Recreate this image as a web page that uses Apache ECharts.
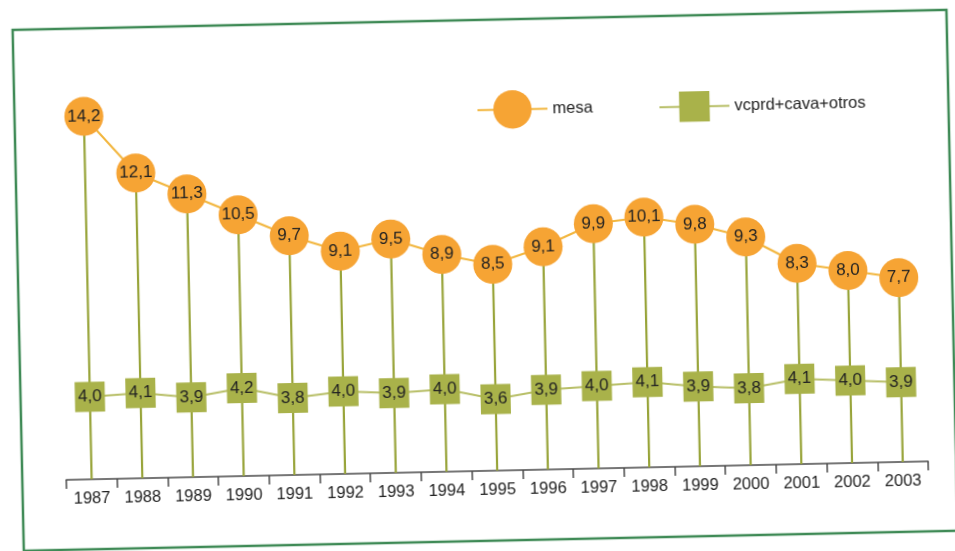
<!DOCTYPE html>
<html>
<head>
<meta charset="utf-8">
<title>mesa / vcprd+cava+otros 1987-2003</title>
<script src="https://cdn.jsdelivr.net/npm/echarts@6/dist/echarts.min.js"></script>
<style>
  html, body { margin: 0; padding: 0; background: #ffffff; overflow: hidden; }
  #chart {
    width: 955px; height: 551px;
    transform: rotate(-1.23deg);
    transform-origin: 477px 275px;
  }
</style>
</head>
<body>
<div id="chart"></div>
<script>
// Years on the horizontal axis
const years = ['1987', '1988', '1989', '1990', '1991', '1992', '1993', '1994', '1995',
               '1996', '1997', '1998', '1999', '2000', '2001', '2002', '2003'];

// Series values
const mesa = [14.2, 12.1, 11.3, 10.5, 9.7, 9.1, 9.5, 8.9, 8.5, 9.1, 9.9, 10.1, 9.8, 9.3, 8.3, 8.0, 7.7];
const vcprd = [4.0, 4.1, 3.9, 4.2, 3.8, 4.0, 3.9, 4.0, 3.6, 3.9, 4.0, 4.1, 3.9, 3.8, 4.1, 4.0, 3.9];

const seriesNames = ['mesa', 'vcprd+cava+otros'];

const FONT = '"Liberation Sans", Arial, Helvetica, sans-serif';
const commaFmt = p => p.value.toFixed(1).replace('.', ',');

const chart = echarts.init(document.getElementById('chart'), null, { renderer: 'canvas' });

chart.setOption({
  backgroundColor: 'transparent',
  animation: false,
  textStyle: { fontFamily: FONT },
  graphic: [{
    type: 'rect',
    shape: { x: 18, y: 20, width: 934, height: 521 },
    style: { fill: 'none', stroke: '#3f8a56', lineWidth: 2.5 },
    z: 0, silent: true
  }],
  legend: [{
    data: [seriesNames[0]],
    left: 475, top: 86,
    itemWidth: 70, itemHeight: 48, itemGap: 0,
    textStyle: { fontSize: 16.5, color: '#222', fontFamily: FONT }
  }, {
    data: [seriesNames[1]],
    left: 657, top: 91,
    itemWidth: 70, itemHeight: 38, itemGap: 0,
    textStyle: { fontSize: 16.5, color: '#222', fontFamily: FONT }
  }],
  grid: { left: 62, right: 31, top: 86, bottom: 80, containLabel: false },
  xAxis: {
    type: 'category',
    data: years,
    boundaryGap: true,
    axisLine: { show: true, lineStyle: { color: '#4a4a4a', width: 1.5 } },
    axisTick: { show: true, interval: 0, length: 9, lineStyle: { color: '#4a4a4a', width: 1.5 } },
    axisLabel: { interval: 0, margin: 11, fontSize: 16.5, color: '#222', fontFamily: FONT },
    splitLine: { show: false }
  },
  yAxis: {
    type: 'value',
    min: 1, max: 15,
    startValue: 1,
    show: false,
    splitLine: { show: false }
  },
  series: [{
    // vertical drop lines from each "mesa" point down to the axis
    type: 'bar',
    data: mesa,
    barWidth: 2.2,
    itemStyle: { color: '#98a43a' },
    silent: true,
    z: 1,
    clip: true
  }, {
    name: seriesNames[1],
    type: 'line',
    data: vcprd,
    symbol: 'rect',
    symbolSize: 30,
    lineStyle: { color: '#b8bf68', width: 2 },
    itemStyle: { color: '#a9b24a' },
    label: { show: true, position: 'inside', formatter: commaFmt, fontSize: 17, color: '#222', fontFamily: FONT },
    z: 3
  }, {
    name: seriesNames[0],
    type: 'line',
    data: mesa,
    symbol: 'circle',
    symbolSize: 39,
    lineStyle: { color: '#f2b63e', width: 2 },
    itemStyle: { color: '#f6a434' },
    label: { show: true, position: 'inside', formatter: commaFmt, fontSize: 17, color: '#222', fontFamily: FONT },
    z: 4
  }]
});
</script>
</body>
</html>
